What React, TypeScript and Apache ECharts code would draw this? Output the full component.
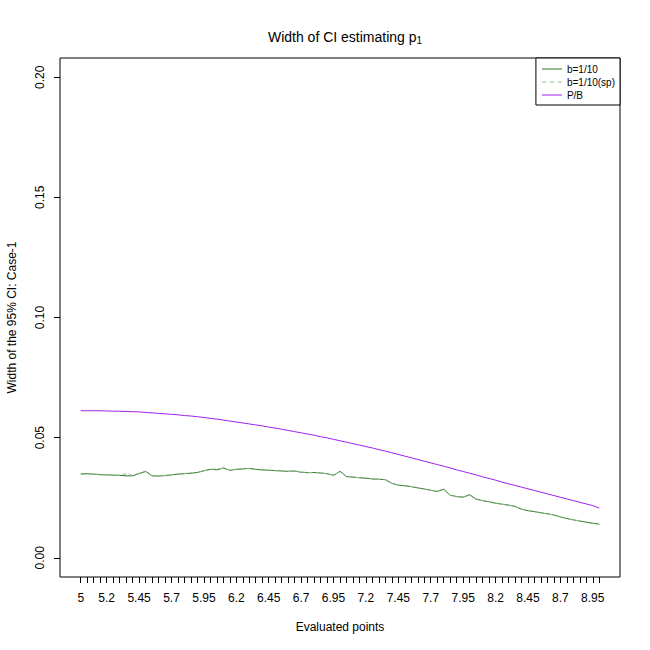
import React, { useEffect, useRef } from "react";
import * as echarts from "echarts";

const xs = [
  5.0, 5.05, 5.1, 5.15, 5.2, 5.25, 5.3, 5.35, 5.4, 5.45,
  5.5, 5.55, 5.6, 5.65, 5.7, 5.75, 5.8, 5.85, 5.9, 5.95,
  6.0, 6.05, 6.1, 6.15, 6.2, 6.25, 6.3, 6.35, 6.4, 6.45,
  6.5, 6.55, 6.6, 6.65, 6.7, 6.75, 6.8, 6.85, 6.9, 6.95,
  7.0, 7.05, 7.1, 7.15, 7.2, 7.25, 7.3, 7.35, 7.4, 7.45,
  7.5, 7.55, 7.6, 7.65, 7.7, 7.75, 7.8, 7.85, 7.9, 7.95,
  8.0, 8.05, 8.1, 8.15, 8.2, 8.25, 8.3, 8.35, 8.4, 8.45,
  8.5, 8.55, 8.6, 8.65, 8.7, 8.75, 8.8, 8.85, 8.9, 8.95,
  9.0,
];

const bSolid = [
  0.0349, 0.035, 0.0348, 0.0346, 0.0345, 0.0344, 0.0343, 0.0341, 0.0341, 0.035,
  0.036, 0.0341, 0.034, 0.0342, 0.0345, 0.0348, 0.035, 0.0352, 0.0355, 0.0362,
  0.0368, 0.0366, 0.0374, 0.0364, 0.0368, 0.037, 0.0372, 0.0368, 0.0366, 0.0364,
  0.0363, 0.0361, 0.036, 0.0361, 0.0356, 0.0354, 0.0355, 0.0353, 0.035, 0.0343,
  0.036, 0.0338, 0.0336, 0.0333, 0.0331, 0.0328, 0.0327, 0.0325, 0.031, 0.0302,
  0.03, 0.0296, 0.0291, 0.0286, 0.0281, 0.0276, 0.0285, 0.026, 0.0255, 0.0252,
  0.0262, 0.0244, 0.0238, 0.0233, 0.0227, 0.0223, 0.0219, 0.0214, 0.0202, 0.0196,
  0.0192, 0.0187, 0.0183, 0.0178, 0.017, 0.0163, 0.0158, 0.0153, 0.0148, 0.0144,
  0.014,
];

const bSp = [
  0.0348, 0.0349, 0.0349, 0.0346, 0.0344, 0.0343, 0.0344, 0.035, 0.0343, 0.0352,
  0.0358, 0.0342, 0.0341, 0.0343, 0.0346, 0.0349, 0.0351, 0.0353, 0.0356, 0.0363,
  0.0367, 0.0372, 0.0371, 0.0366, 0.0369, 0.0371, 0.0371, 0.0369, 0.0365, 0.0365,
  0.0362, 0.0362, 0.0359, 0.0362, 0.0357, 0.0355, 0.0354, 0.0354, 0.0349, 0.0345,
  0.0358, 0.0339, 0.0335, 0.0334, 0.0332, 0.0329, 0.0326, 0.0326, 0.0309, 0.0303,
  0.0299, 0.0297, 0.029, 0.0287, 0.028, 0.0277, 0.0288, 0.0261, 0.0254, 0.0253,
  0.0264, 0.0245, 0.0237, 0.0234, 0.0228, 0.0222, 0.022, 0.0213, 0.0203, 0.0197,
  0.0191, 0.0188, 0.0182, 0.0179, 0.0171, 0.0164, 0.0157, 0.0154, 0.0149, 0.0143,
  0.0141,
];

const pb = [
  0.0612, 0.0612, 0.0612, 0.0612, 0.0611, 0.061, 0.061, 0.0609, 0.0608, 0.0607,
  0.0605, 0.0603, 0.0601, 0.0599, 0.0597, 0.0595, 0.0592, 0.059, 0.0587, 0.0584,
  0.058, 0.0577, 0.0573, 0.0569, 0.0565, 0.0561, 0.0557, 0.0553, 0.0549, 0.0544,
  0.054, 0.0535, 0.053, 0.0525, 0.052, 0.0515, 0.051, 0.0504, 0.0499, 0.0493,
  0.0487, 0.0481, 0.0475, 0.0469, 0.0463, 0.0457, 0.045, 0.0444, 0.0437, 0.043,
  0.0423, 0.0416, 0.0409, 0.0402, 0.0395, 0.0388, 0.0381, 0.0374, 0.0366, 0.0359,
  0.0352, 0.0345, 0.0337, 0.033, 0.0323, 0.0315, 0.0308, 0.0301, 0.0294, 0.0287,
  0.028, 0.0273, 0.0266, 0.0259, 0.0252, 0.0245, 0.0238, 0.0231, 0.0224, 0.0217,
  0.0207,
];

const xLabels = [5, 5.2, 5.45, 5.7, 5.95, 6.2, 6.45, 6.7, 6.95, 7.2, 7.45, 7.7, 7.95, 8.2, 8.45, 8.7, 8.95];
const yTicks = [0, 0.05, 0.1, 0.15, 0.2];

const FONT = "'Liberation Sans', Arial, Helvetica, sans-serif";
const SOLID_ICON = "path://M0,0H20V1H0Z";
const DASH_ICON = "path://M0,0H4V1H0Z M7,0H11V1H7Z M14,0H18V1H14Z";

export default function App() {
  const ref = useRef<HTMLDivElement>(null);
  useEffect(() => {
    if (!ref.current) return;
    const chart = echarts.init(ref.current, null, { renderer: "svg" });
    const pair = (ys: number[]) => xs.map((x, i) => [x, ys[i]]);
    chart.setOption({
      animation: false,
      backgroundColor: "#ffffff",
      textStyle: { fontFamily: FONT, color: "#000" },
      title: {
        text: "Width of CI estimating p{sub|1}",
        left: 340,
        top: 24,
        textAlign: "center",
        textStyle: {
          fontFamily: FONT,
          fontSize: 14,
          fontWeight: "normal",
          color: "#000",
          rich: {
            sub: { fontSize: 10, verticalAlign: "bottom", padding: [6, 0, 0, 0], fontFamily: FONT, color: "#000" },
          },
        },
      },
      legend: {
        orient: "vertical",
        right: 30,
        top: 58,
        itemWidth: 20,
        itemHeight: 10,
        itemGap: 3,
        padding: [6, 5, 5, 6],
        borderColor: "#000",
        borderWidth: 1,
        borderRadius: 0,
        backgroundColor: "#fff",
        textStyle: { fontSize: 10, fontFamily: FONT, color: "#000" },
        data: [
          { name: "b=1/10", icon: SOLID_ICON },
          { name: "b=1/10(sp)", icon: DASH_ICON },
          { name: "P/B", icon: SOLID_ICON },
        ],
      },
      grid: {
        left: 60,
        right: 30,
        top: 58,
        bottom: 73,
        show: true,
        containLabel: false,
        outerBoundsMode: "none",
        borderColor: "#000",
        borderWidth: 1,
        backgroundColor: "transparent",
      },
      xAxis: {
        type: "value",
        min: 4.84,
        max: 9.16,
        name: "Evaluated points",
        nameLocation: "middle",
        nameGap: 44,
        nameTextStyle: { fontSize: 12, fontFamily: FONT, color: "#000" },
        axisLine: { show: false, onZero: false },
        splitLine: { show: false },
        axisTick: {
          show: true,
          length: 6,
          customValues: xs,
          lineStyle: { color: "#000", width: 1 },
        },
        axisLabel: {
          customValues: xLabels,
          fontSize: 12,
          fontFamily: FONT,
          color: "#000",
          margin: 15,
          formatter: (v: number) => String(Math.round(v * 100) / 100),
        },
      },
      yAxis: {
        type: "value",
        min: -0.008,
        max: 0.208,
        name: "Width of the 95% CI: Case-1",
        nameLocation: "middle",
        nameGap: 42,
        nameTextStyle: { fontSize: 12, fontFamily: FONT, color: "#000" },
        axisLine: { show: false, onZero: false },
        splitLine: { show: false },
        axisTick: {
          show: true,
          length: 6,
          customValues: yTicks,
          lineStyle: { color: "#000", width: 1 },
        },
        axisLabel: {
          customValues: yTicks,
          rotate: 90,
          fontSize: 12,
          fontFamily: FONT,
          color: "#000",
          margin: 14,
          formatter: (v: number) => v.toFixed(2),
        },
      },
      series: [
        {
          name: "b=1/10",
          type: "line",
          data: pair(bSolid),
          showSymbol: false,
          symbol: "none",
          lineStyle: { color: "#2f7325", width: 1 },
          itemStyle: { color: "#2f7325" },
        },
        {
          name: "b=1/10(sp)",
          type: "line",
          data: pair(bSp),
          showSymbol: false,
          symbol: "none",
          lineStyle: { color: "#8fbc8f", width: 1, type: [4, 3] },
          itemStyle: { color: "#8fbc8f" },
        },
        {
          name: "P/B",
          type: "line",
          data: pair(pb),
          showSymbol: false,
          symbol: "none",
          lineStyle: { color: "#a020f0", width: 1 },
          itemStyle: { color: "#a020f0" },
        },
      ],
    });
    return () => chart.dispose();
  }, []);
  return (
    <div
      ref={ref}
      style={{ position: "absolute", left: 0, top: 0, width: 650, height: 650, background: "#fff" }}
    />
  );
}
